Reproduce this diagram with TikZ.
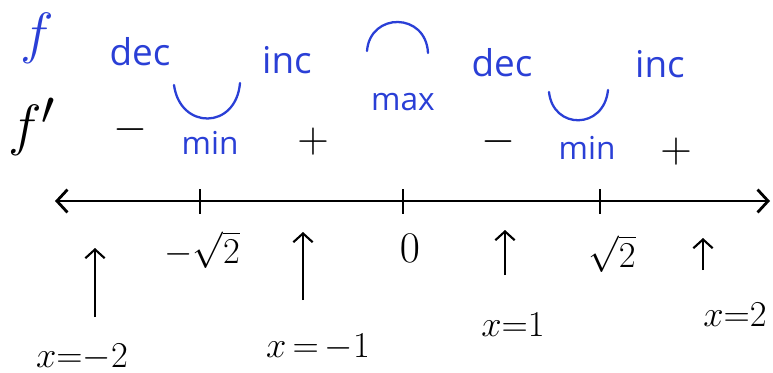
\documentclass[tikz,border=0pt]{standalone}
\usepackage{fontspec}
\setsansfont{Open Sans}
\usetikzlibrary{positioning,arrows.meta}
\definecolor{inkblue}{HTML}{2A3FD6}

\begin{document}
\begin{tikzpicture}[x=0.02cm, y=-0.02cm,
      fword/.style={text=inkblue, font=\fontsize{21}{23}\selectfont\sffamily, inner sep=0pt},
      extlbl/.style={text=inkblue, font=\fontsize{18}{20}\selectfont\sffamily, inner sep=0pt},
      fname/.style={font=\fontsize{24.88}{27}\selectfont, inner sep=0pt},
      sgn/.style={font=\fontsize{24}{26}\selectfont, inner sep=0pt},
      ptlbl/.style={font=\fontsize{21}{23}\selectfont, inner sep=0pt},
      curve/.style={draw=inkblue, line width=1.3pt, line cap=round},
      axis/.style={line width=1.6pt,
                   {Straight Barb[length=6pt,width=13pt]}-{Straight Barb[length=6pt,width=13pt]}},
      tick/.style={line width=1.2pt},
      uparr/.style={-{Straight Barb[length=5pt,width=11pt]}, line width=1.2pt}
    ]
    \useasboundingbox (0,0) rectangle (773,372);
    % ------------- row f -------------
    \node[fname, text=inkblue] (fRow) at (37,38) {\scalebox{1.3}{$f$}};
    \node[fword] (dec1) at (140,52) {dec};
    \node[fword] (inc1) at (287,60) {inc};
    \node[fword] (dec2) at (502,63) {dec};
    \node[fword] (inc2) at (660,64) {inc};
    \draw[curve] (367,51) .. controls (370,12) and (426,12) .. (428,53);
    \node[extlbl] (maxLbl) at (403,102) {max};
    \draw[curve] (174,85) .. controls (180,130) and (236,130) .. (240,83);
    \node[extlbl] (min1) at (210,143) {min};
    \draw[curve] (549,92) .. controls (553,130) and (604,130) .. (608,90);
    \node[extlbl] (min2) at (587,148) {min};
    % ------------- row f' -------------
    \node[fname] (fpRow) at (32,127) {\scalebox{1.3}{$f'$}};
    \node[sgn] (s1) at (130,130) {$-$};
    \node[sgn] (s2) at (313,142) {$+$};
    \node[sgn] (s3) at (498,142) {$-$};
    \node[sgn] (s4) at (676,152) {$+$};
    % ------------- number line -------------
    \coordinate (axL) at (55,201);
    \coordinate (axR) at (770,201);
    \draw[axis] (axL) -- (axR);
    \foreach \tx in {200,403,600}
      \draw[tick] (\tx,189) -- (\tx,214);
    \node[ptlbl] (pA) at (202,250) {${-}\sqrt{2}$};
    \node[ptlbl] (pB) at (410,248) {\scalebox{1.2}{$0$}};
    \node[ptlbl] (pC) at (612,254) {$\sqrt{2}$};
    % ------------- test points -------------
    \foreach \nm/\ax/\ay/\by in {A/95/317/248, B/303/300/232, C/505/275/230, D/703/270/238} {
      \coordinate (base\nm) at (\ax,\ay);
      \coordinate (tip\nm) at (\ax,\by);
      \draw[uparr] (base\nm) -- (tip\nm);
    }
    \node[ptlbl] (xA) at (82,357) {$x{=}{-}2$};
    \node[ptlbl] (xB) at (318,347) {$x\,{=}\,{-}1$};
    \node[ptlbl] (xC) at (513,325) {$x{=}1$};
    \node[ptlbl] (xD) at (735,315) {$x{=}2$};
  \end{tikzpicture}
\end{document}
